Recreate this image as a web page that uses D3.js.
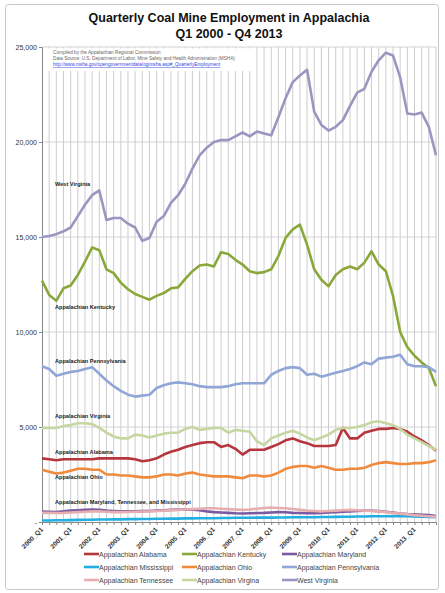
<!DOCTYPE html>
<meta charset="utf-8">
<style>
body { margin: 0; background: #fff; }
text { font-family: "Liberation Sans", Arial, sans-serif; }
</style>
<body>
<script src="https://d3js.org/d3.v7.min.js"></script>
<script>

// quarters 2000_Q1 .. 2013_Q4
var years = [2000,2001,2002,2003,2004,2005,2006,2007,2008,2009,2010,2011,2012,2013];
var quarters = ["Q1","Q2","Q3","Q4"];
var categories = [];
years.forEach(function(y) { quarters.forEach(function(q) { categories.push(y + "_" + q); }); });

var yTicks = [0, 5000, 10000, 15000, 20000, 25000];

var alabama = [3350,3300,3250,3300,3300,3300,3300,3300,3350,3350,3350,3350,3350,3300,3200,3250,
  3350,3550,3700,3800,3950,4050,4150,4200,4200,3950,4050,3850,3550,3800,3800,3800,
  3950,4100,4300,4400,4250,4150,4000,4000,4000,4050,4950,4400,4400,4700,4800,4900,
  4900,4950,4900,4750,4500,4300,4050,3750];
var kentucky = [12700,11950,11650,12300,12450,13000,13700,14450,14300,13300,13100,12600,12250,12000,11850,11700,
  11900,12050,12300,12350,12800,13200,13500,13550,13450,14200,14100,13800,13550,13200,13100,13150,
  13300,14000,14950,15400,15650,14600,13300,12750,12400,13000,13300,13450,13300,13650,14250,13550,
  13200,11900,10000,9200,8750,8400,8100,7150];
var maryland = [550,540,530,560,600,620,640,650,640,600,580,560,560,560,570,580,
  600,620,640,650,660,650,620,560,520,500,480,460,450,460,470,480,
  500,520,510,480,470,460,460,480,500,520,540,560,580,600,590,570,
  540,500,450,420,400,380,360,320];
var mississippi = [80,80,90,90,100,110,120,120,130,130,140,140,150,150,160,160,
  170,170,180,180,190,190,200,200,200,210,210,220,220,220,230,230,
  230,240,240,250,250,250,250,260,260,270,280,280,290,290,300,300,
  300,310,300,300,290,280,270,250];
var ohio = [2750,2650,2550,2600,2700,2800,2800,2750,2750,2500,2500,2450,2450,2400,2350,2350,
  2400,2500,2500,2450,2550,2600,2500,2450,2400,2400,2400,2350,2300,2450,2450,2400,
  2450,2600,2800,2900,2950,2950,2850,2950,2850,2750,2750,2800,2800,2850,3000,3100,
  3150,3100,3050,3050,3100,3100,3150,3250];
var pennsylvania = [8200,8050,7700,7800,7900,7950,8050,8150,7800,7450,7150,6900,6700,6600,6650,6700,
  7050,7200,7300,7350,7300,7250,7150,7100,7100,7100,7150,7250,7300,7300,7300,7300,
  7750,7950,8100,8150,8100,7750,7800,7650,7750,7850,7950,8050,8200,8400,8300,8600,
  8650,8700,8800,8300,8200,8200,8150,7900];
var tennessee = [480,480,470,480,500,520,540,560,560,540,520,520,530,540,550,560,
  580,600,620,640,660,680,700,720,720,700,680,660,640,660,700,740,
  760,740,720,680,640,600,580,560,580,600,620,640,620,600,580,560,
  520,480,440,400,360,330,300,270];
var virginia = [4950,4950,4950,5050,5100,5200,5200,5150,4950,4700,4500,4400,4400,4600,4550,4450,
  4550,4650,4700,4700,4900,5000,4850,4900,4950,4950,4700,4850,4800,4750,4250,4050,
  4400,4550,4700,4800,4650,4450,4300,4450,4600,4850,4950,4950,5000,5100,5250,5300,
  5200,5100,4900,4600,4400,4200,4000,3800];
var westVirginia = [15000,15050,15150,15300,15500,16100,16700,17200,17450,15900,16000,16000,15700,15500,14800,14950,
  15800,16100,16800,17200,17800,18600,19300,19700,20000,20100,20100,20300,20500,20300,20550,20450,
  20350,21300,22300,23150,23500,23800,21600,20900,20600,20800,21150,21900,22600,22800,23700,24300,
  24700,24550,23400,21500,21450,21550,20800,19300];

var seriesNames = ["Appalachian Alabama","Appalachian Kentucky","Appalachian Maryland",
  "Appalachian Mississippi","Appalachian Ohio","Appalachian Pennsylvania",
  "Appalachian Tennessee","Appalachian Virgina","West Virginia"];
var seriesValues = [alabama, kentucky, maryland, mississippi, ohio, pennsylvania, tennessee, virginia, westVirginia];
var seriesColors = ["#b7353d","#8aa83a","#7a5aa0","#22aee0","#f08a3c","#8fa6d6","#e6aeb0","#c6d6a0","#9a96c0"];

var inlineLabels = [
  {text: "West Virginia", v: 17700},
  {text: "Appalachian Kentucky", v: 11200},
  {text: "Appalachian Pennsylvania", v: 8350},
  {text: "Appalachian Virginia", v: 5450},
  {text: "Appalachian Alabama", v: 3600},
  {text: "Appalachian Ohio", v: 2250},
  {text: "Appalachian Maryland, Tennessee, and Mississippi", v: 950}
];

var W = 445, H = 593;
var svg = d3.select("body").append("svg").attr("width", W).attr("height", H);

// outer frame
svg.append("rect").attr("x", 5.5).attr("y", 4.5).attr("width", 433).attr("height", 585)
  .attr("rx", 3).attr("fill", "#fff").attr("stroke", "#c8c8c8");

// title
svg.append("text").attr("x", 229).attr("y", 22).attr("text-anchor", "middle")
  .attr("font-size", 12.5).attr("font-weight", "bold").attr("fill", "#111")
  .text("Quarterly Coal Mine Employment in Appalachia");
svg.append("text").attr("x", 229).attr("y", 38).attr("text-anchor", "middle")
  .attr("font-size", 12.5).attr("font-weight", "bold").attr("fill", "#111")
  .text("Q1 2000 - Q4 2013");

var x = d3.scaleLinear().domain([0, categories.length - 1]).range([42, 436]);
var y = d3.scaleLinear().domain([0, 25000]).range([522, 47]);

// horizontal gridlines
svg.append("g").selectAll("line").data(yTicks.slice(1)).enter().append("line")
  .attr("x1", 42).attr("x2", 436)
  .attr("y1", function(d) { return y(d); }).attr("y2", function(d) { return y(d); })
  .attr("stroke", "#d4d4d4").attr("stroke-width", 1);

// vertical gridlines, one per quarter
svg.append("g").selectAll("line").data(categories.slice(1)).enter().append("line")
  .attr("x1", function(d, i) { return x(i + 1); }).attr("x2", function(d, i) { return x(i + 1); })
  .attr("y1", y(25000)).attr("y2", y(0))
  .attr("stroke", "#cdcdcd").attr("stroke-width", 1);

// source note box
svg.append("rect").attr("x", 44).attr("y", 48.5).attr("width", 209).attr("height", 22.5).attr("fill", "#fff");
var note = svg.append("g").attr("font-size", 4.7).attr("fill", "#666");
note.append("text").attr("x", 53).attr("y", 54).text("Compiled by the Appalachian Regional Commission");
note.append("text").attr("x", 53).attr("y", 60).text("Data Source: U.S. Department of Labor, Mine Safety and Health Administration (MSHA)");
note.append("text").attr("x", 53).attr("y", 66).attr("fill", "#3344dd").attr("text-decoration", "underline")
  .text("http://www.msha.gov/opengovernmentdata/ogimsha.asp#_QuarterlyEmployment");

// y axis
var yAxis = svg.append("g").attr("transform", "translate(42,0)")
  .call(d3.axisLeft(y).tickValues(yTicks).tickSize(3)
    .tickFormat(function(d) { return d === 0 ? "-" : d3.format(",")(d); }));
yAxis.selectAll("text").attr("font-size", 7).attr("fill", "#333").attr("x", -5);
yAxis.selectAll("line").attr("stroke", "#888");
yAxis.select(".domain").attr("stroke", "#888");

// x axis
var xAxis = svg.append("g").attr("transform", "translate(0," + y(0) + ")")
  .call(d3.axisBottom(x).tickValues(d3.range(categories.length)).tickSize(3)
    .tickFormat(function(i) { return i % 4 === 0 ? categories[i] : ""; }));
xAxis.selectAll("line").attr("stroke", "#888");
xAxis.select(".domain").attr("stroke", "#888");
xAxis.selectAll("text").attr("font-size", 6.6).attr("font-weight", "bold").attr("fill", "#333")
  .attr("text-anchor", "end").attr("dy", 0).attr("y", 0)
  .attr("transform", "translate(1,8) rotate(-45)");

// series lines
var line = d3.line().x(function(d, i) { return x(i); }).y(function(d) { return y(d); });
svg.append("g").selectAll("path").data(seriesValues).enter().append("path")
  .attr("d", line)
  .attr("fill", "none")
  .attr("stroke", function(d, i) { return seriesColors[i]; })
  .attr("stroke-width", 2.6)
  .attr("stroke-linejoin", "round");

// inline labels
svg.append("g").selectAll("text").data(inlineLabels).enter().append("text")
  .attr("x", 55).attr("y", function(d) { return y(d.v); })
  .attr("font-size", 5.6).attr("font-weight", "bold").attr("fill", "#222")
  .text(function(d) { return d.text; });

// legend
var legendCols = [84, 182, 282], legendRows = [554, 567, 580];
var leg = svg.append("g").selectAll("g").data(seriesNames).enter().append("g")
  .attr("transform", function(d, i) { return "translate(" + legendCols[i % 3] + "," + legendRows[Math.floor(i / 3)] + ")"; });
leg.append("line").attr("x1", 0).attr("x2", 15).attr("y1", 0).attr("y2", 0)
  .attr("stroke", function(d, i) { return seriesColors[i]; }).attr("stroke-width", 2.6);
leg.append("text").attr("x", 15).attr("y", 2.5).attr("font-size", 7).attr("fill", "#444")
  .text(function(d) { return d; });

</script>
</body>
